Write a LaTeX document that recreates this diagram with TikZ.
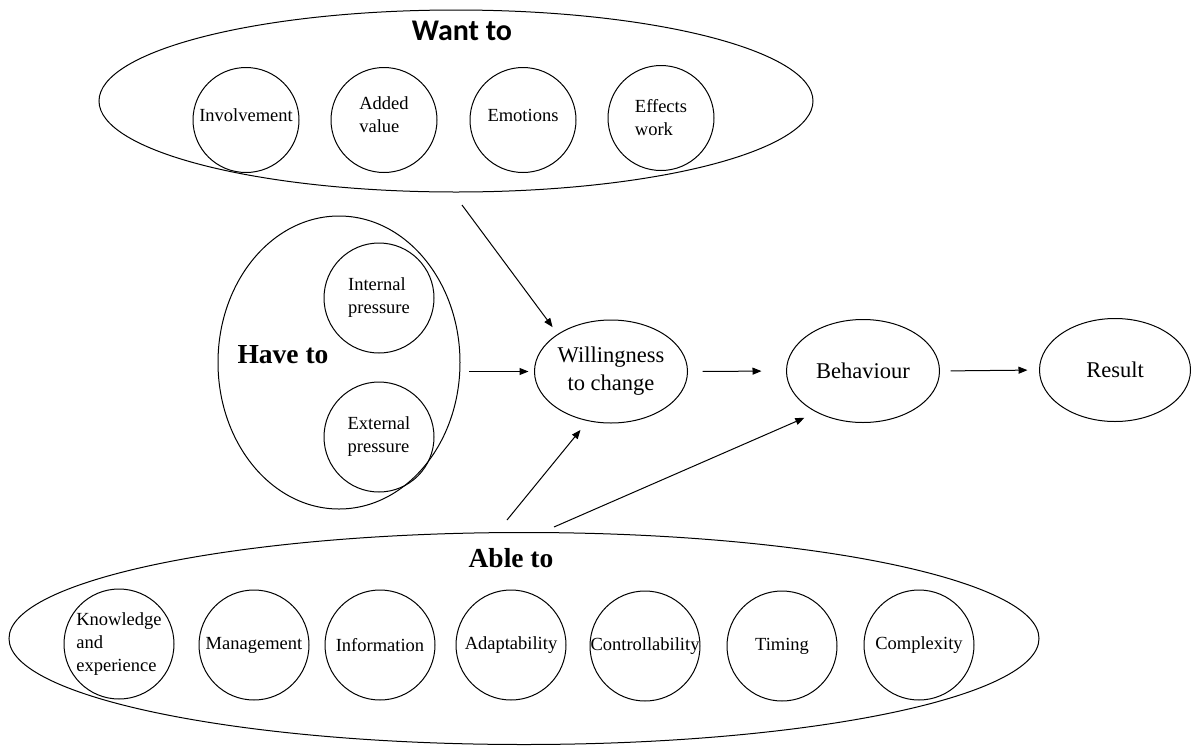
\documentclass[tikz,border=0pt]{standalone}
\usepackage{fontspec}
\setmainfont{Liberation Serif}
\newfontfamily\titlesans{Carlito}
\usetikzlibrary{shapes.geometric, arrows.meta}

\begin{document}
\begin{tikzpicture}[x=1pt, y=-1pt,
  every node/.style={inner sep=0pt, outer sep=0pt},
  group/.style={draw, ellipse, line width=1pt},
  smallcirc/.style={draw, ellipse, line width=1pt, minimum width=106pt, minimum height=105pt},
  bigcirc/.style={draw, ellipse, line width=1pt, minimum width=110pt, minimum height=110pt},
  itemtext/.style={align=left, font=\fontsize{18.5}{23}\selectfont},
  raisedtext/.style={itemtext, yshift=5pt},
  stage/.style={draw, ellipse, line width=1pt, minimum width=153pt, minimum height=103pt,
    align=center, font=\fontsize{22.5}{28}\selectfont},
  serifhead/.style={font=\fontsize{27.5}{32}\selectfont\bfseries},
  arr/.style={-{Triangle[length=9pt, width=7pt]}, line width=1pt},
]
\useasboundingbox (0,0) rectangle (1192,745);

% --- "Want to" group ---
\node[group, minimum width=714pt, minimum height=182pt] (want) at (456,101) {};
\node[font=\titlesans\bfseries\fontsize{30}{34}\selectfont] (wanttitle) at (462,31) {Want to};
\node[smallcirc, label={[raisedtext]center:Involvement}] (inv) at (246,120) {};
\node[smallcirc, label={[raisedtext]center:Added\\value}] (add) at (384,120) {};
\node[smallcirc, label={[raisedtext]center:Emotions}] (emo) at (523,120) {};
\node[smallcirc, label={[itemtext]center:Effects\\work}] (eff) at (661,118) {};

% --- "Have to" group ---
\node[group, minimum width=242pt, minimum height=293pt] (have) at (339,362.5) {};
\node[serifhead] (havetitle) at (283,355) {Have to};
\node[bigcirc, label={[itemtext]center:Internal\\pressure}] (intp) at (379,298) {};
\node[bigcirc, label={[itemtext]center:External\\pressure}] (extp) at (379,437) {};

% --- process chain ---
\node[stage] (will) at (611,371.5) {Willingness\\to change};
\node[stage] (beh) at (863,371) {Behaviour};
\node[stage, minimum width=151pt] (res) at (1115,370) {Result};

% --- "Able to" group ---
\node[group, minimum width=1030pt, minimum height=212pt] (able) at (524,638.5) {};
\node[serifhead] (abletitle) at (511,558) {Able to};
\node[bigcirc, label={[itemtext]center:Knowledge\\and\\experience}] (know) at (119,644) {};
\node[bigcirc, label={[itemtext]center:Management}] (man) at (254,645) {};
\node[bigcirc, label={[itemtext]center:Information}] (info) at (380,645) {};
\node[bigcirc, label={[itemtext]center:Adaptability}] (adap) at (511,645) {};
\node[bigcirc, label={[itemtext]center:Controllability}] (ctrl) at (645,646) {};
\node[bigcirc, label={[itemtext]center:Timing}] (tim) at (782,646) {};
\node[bigcirc, label={[itemtext]center:Complexity}] (comp) at (919,645) {};

% --- free ends of the influence arrows ---
\coordinate (wantfoot) at (462,205);
\coordinate (ablefootA) at (507,520);
\coordinate (ablefootB) at (554,527);

% --- connectors ---
\draw[arr, shorten >=9pt] (wantfoot) -- (will.145);
\draw[arr, shorten <=9pt, shorten >=6pt] (have.east |- will.west) -- (will.west);
\draw[arr, shorten >=12pt] (ablefootA) -- (will.245);
\draw[arr, shorten >=14pt] (ablefootB) -- (beh.222.5);
\draw[arr, shorten <=15pt, shorten >=25pt] (will.east) -- (beh.west);
\draw[arr, shorten <=11pt, shorten >=12pt] (beh.east) -- (res.west);
\end{tikzpicture}
\end{document}
